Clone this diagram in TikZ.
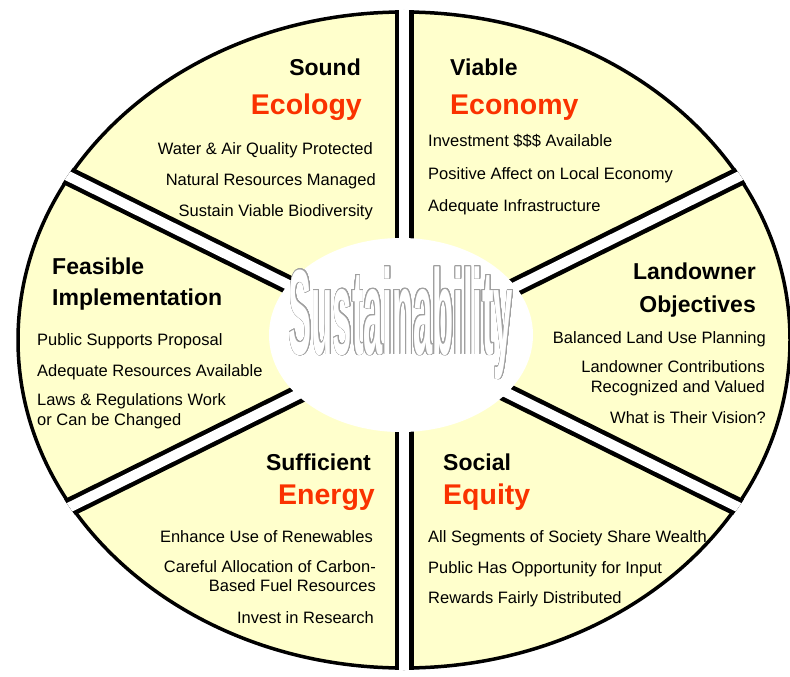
\documentclass[tikz,border=0pt]{standalone}
\usepackage{fontspec}
\setmainfont{Liberation Sans}
\newfontfamily\wordfont[FakeStretch=0.285]{Liberation Sans Bold}
\usepackage{contour}
\contourlength{0.8pt}
\contournumber{24}
\definecolor{pieyellow}{RGB}{255,255,204}
\definecolor{headred}{RGB}{250,50,0}
\definecolor{wordgray}{RGB}{160,160,160}
\tikzset{x=1pt, y=-1pt,
every node/.style={inner sep=0pt}, % Text sits right on its anchor
head/.style={font=\bfseries\fontsize{23}{26}\selectfont},
headred/.style={font=\bfseries\fontsize{28.5}{32}\selectfont, text=headred},
item/.style={font=\fontsize{16.5}{19.5}\selectfont},
gap/.style={ % White cut between two sectors
draw=black, line width=4.5pt,
double=white, double distance=10pt}}

\begin{document}
\begin{tikzpicture}
\useasboundingbox (0,0) rectangle (790,677);
% pie
\fill[pieyellow, draw=black, line width=3.5pt] (404,340) ellipse [x radius=386, y radius=328];
\begin{scope}
\clip (404,340) ellipse [x radius=388, y radius=330];
\foreach \a in {90,270,26.3,-26.3,153.7,206.3}
  \draw[gap] (404,342) -- ++(\a:520);
\end{scope}
\fill[white] (401,335) ellipse [x radius=132, y radius=97];
\node[anchor=base] (word) at (401,354) {\wordfont\fontsize{121}{121}\selectfont\contour{wordgray}{\textcolor{white}{Sustainability}}};
% Sound Ecology
\node[head, anchor=base east] (ecoA) at (361,76) {Sound};
\node[headred, anchor=base east] (ecoB) at (362,114) {Ecology};
\node[item, anchor=base east] (eco1) at (373,154) {Water \& Air Quality Protected};
\node[item, anchor=base east] (eco2) at (376,185) {Natural Resources Managed};
\node[item, anchor=base east] (eco3) at (373,216) {Sustain Viable Biodiversity};
% Viable Economy
\node[head, anchor=base west] (econA) at (450,76) {Viable};
\node[headred, anchor=base west] (econB) at (450,114) {Economy};
\node[item, anchor=base west] (econ1) at (428,146) {Investment \$\$\$ Available};
\node[item, anchor=base west] (econ2) at (428,179) {Positive Affect on Local Economy};
\node[item, anchor=base west] (econ3) at (428,211) {Adequate Infrastructure};
% Feasible Implementation
\node[head, anchor=base west] (implA) at (52,274) {Feasible};
\node[head, anchor=base west] (implB) at (52,305) {Implementation};
\node[item, anchor=base west] (impl1) at (37,345) {Public Supports Proposal};
\node[item, anchor=base west] (impl2) at (37,376) {Adequate Resources Available};
\node[item, anchor=west, align=left] (impl3) at (37,411) {Laws \& Regulations Work\\or Can be Changed};
% Landowner Objectives
\node[head, anchor=base east] (landA) at (756,279) {Landowner};
\node[head, anchor=base east] (landB) at (756,312) {Objectives};
\node[item, anchor=base east] (land1) at (766,343) {Balanced Land Use Planning};
\node[item, anchor=east, align=right] (land2) at (765,378) {Landowner Contributions\\Recognized and Valued};
\node[item, anchor=base east] (land3) at (766,423) {What is Their Vision?};
% Sufficient Energy
\node[head, anchor=base east] (enerA) at (371,470) {Sufficient};
\node[headred, anchor=base east] (enerB) at (375,504) {Energy};
\node[item, anchor=base east] (ener1) at (373,542) {Enhance Use of Renewables};
\node[item, anchor=east, align=right] (ener2) at (376,576) {Careful Allocation of Carbon-\\Based Fuel Resources};
\node[item, anchor=base east] (ener3) at (374,623) {Invest in Research};
% Social Equity
\node[head, anchor=base west] (socA) at (443,470) {Social};
\node[headred, anchor=base west] (socB) at (443,504) {Equity};
\node[item, anchor=base west] (soc1) at (428,542) {All Segments of Society Share Wealth};
\node[item, anchor=base west] (soc2) at (428,573) {Public Has Opportunity for Input};
\node[item, anchor=base west] (soc3) at (428,603) {Rewards Fairly Distributed};
\end{tikzpicture}
\end{document}
